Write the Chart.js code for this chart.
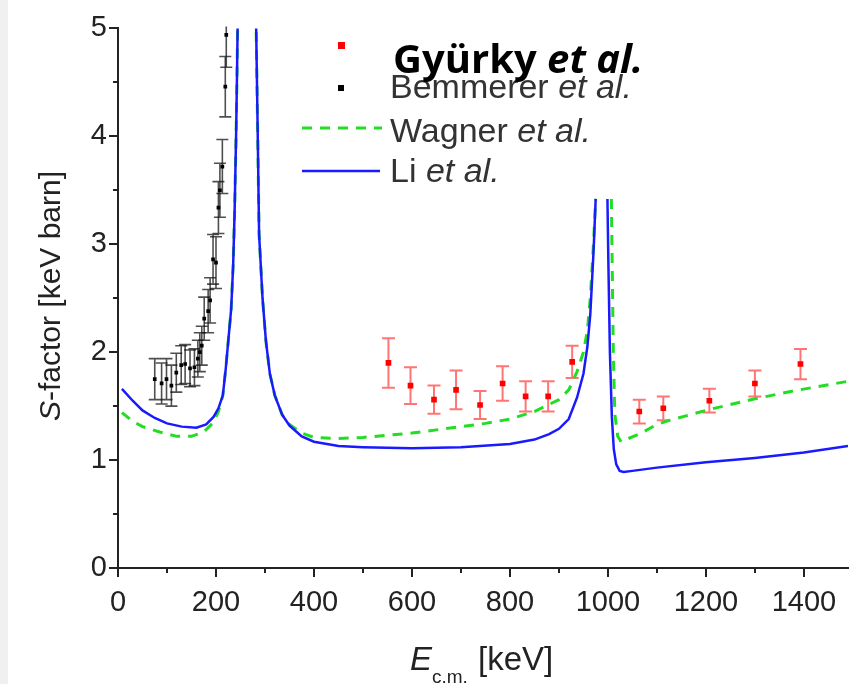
<!DOCTYPE html>
<html><head><meta charset="utf-8">
<script src="https://cdn.jsdelivr.net/npm/chart.js@4.4.1/dist/chart.umd.min.js"></script>
<style>html,body{margin:0;padding:0;background:#fff;}canvas{display:block;}</style>
</head><body>
<canvas id="c" width="852" height="684"></canvas>
<script>
// ---- data ----
const xTickValues = [0, 200, 400, 600, 800, 1000, 1200, 1400];
const yTickValues = [0, 1, 2, 3, 4, 5];

// Bemmerer et al. (black)
const bemE   = [75, 89, 99, 109, 119, 129, 137, 147, 156, 163, 167, 171, 176, 184, 188, 194, 200, 205, 208, 213, 219, 221];
const bemS   = [1.75, 1.71, 1.75, 1.69, 1.81, 1.88, 1.89, 1.85, 1.86, 1.94, 2.00, 2.06, 2.31, 2.38, 2.48, 2.86, 2.83, 3.34, 3.50, 3.72, 4.46, 4.94];
const bemErr = [0.19, 0.19, 0.19, 0.19, 0.18, 0.18, 0.18, 0.17, 0.17, 0.17, 0.18, 0.18, 0.20, 0.20, 0.21, 0.23, 0.24, 0.24, 0.25, 0.25, 0.28, 0.30];

// Gyürky et al. (red)
const gyE   = [552, 597, 645, 690, 739, 785, 832, 878, 927, 1064, 1113, 1207, 1300, 1393];
const gyS   = [1.90, 1.69, 1.56, 1.65, 1.51, 1.71, 1.59, 1.59, 1.91, 1.45, 1.48, 1.55, 1.71, 1.89];
const gyErr = [0.23, 0.17, 0.13, 0.18, 0.13, 0.16, 0.14, 0.14, 0.15, 0.11, 0.11, 0.11, 0.12, 0.14];

// Li et al. (blue curve)
const liE = [8, 30, 50, 75, 100, 130, 160, 180, 195, 205, 214, 220, 226, 231, 235, 238, 241, 243, 245,
             262,
             280, 282, 285, 288, 295, 302, 310, 320, 335, 350, 375, 400, 450, 500, 600, 700, 800, 850, 880, 900, 920, 937, 950, 958, 964, 968, 971, 975,
             987,
             999, 1001, 1004, 1008, 1012, 1017, 1024, 1032, 1050, 1100, 1200, 1300, 1400, 1490];
const liS = [1.66, 1.55, 1.46, 1.39, 1.34, 1.31, 1.30, 1.33, 1.40, 1.48, 1.60, 1.85, 2.15, 2.40, 2.80, 3.30, 4.00, 4.60, 5.30,
             null,
             5.30, 5.00, 4.08, 3.09, 2.50, 2.10, 1.80, 1.60, 1.42, 1.32, 1.22, 1.17, 1.13, 1.12, 1.11, 1.12, 1.15, 1.19, 1.24, 1.29, 1.38, 1.58, 1.80, 2.05, 2.35, 2.70, 2.97, 3.42,
             null,
             3.42, 2.80, 2.00, 1.40, 1.10, 0.96, 0.90, 0.89, 0.90, 0.93, 0.98, 1.02, 1.07, 1.13];

// Wagner et al. (green dashed curve)
const wagE = [8, 30, 50, 85, 120, 150, 175, 195, 205, 214, 220, 226, 231, 235, 238, 241, 243, 245,
              262,
              280, 282, 285, 288, 295, 302, 310, 320, 335, 350, 375, 400, 450, 500, 550, 600, 650, 700, 750, 800, 850, 900, 920, 937, 950, 958, 964, 968, 971, 975,
              991,
              1007, 1009, 1011, 1014, 1020, 1027, 1042, 1066, 1100, 1127, 1208, 1302, 1384, 1490];
const wagS = [1.44, 1.36, 1.31, 1.26, 1.22, 1.22, 1.26, 1.35, 1.45, 1.60, 1.85, 2.15, 2.40, 2.80, 3.30, 4.00, 4.60, 5.30,
              null,
              5.30, 5.00, 4.08, 3.09, 2.50, 2.10, 1.80, 1.60, 1.42, 1.33, 1.25, 1.21, 1.20, 1.21, 1.23, 1.25, 1.28, 1.31, 1.34, 1.38, 1.45, 1.56, 1.65, 1.82, 2.00, 2.20, 2.50, 2.80, 3.05, 3.42,
              null,
              3.42, 2.70, 2.00, 1.43, 1.22, 1.17, 1.20, 1.245, 1.33, 1.37, 1.47, 1.57, 1.645, 1.73];

const legendLabels = ['Gyürky', 'Bemmerer', 'Wagner', 'Li'];
const etAl = 'et al.';

// ---- helpers ----
const pts = (xs, ys) => xs.map((x, i) => ({ x: x, y: ys[i] }));
const SANS = '"Liberation Sans", Arial, sans-serif';

const decor = {
  id: 'decor',
  beforeDraw(chart) {
    const c = chart.ctx;
    c.save();
    c.fillStyle = '#ffffff';
    c.fillRect(0, 0, chart.width, chart.height);
    c.fillStyle = '#f0f0f0';
    c.fillRect(0, 0, 8, chart.height);
    c.restore();
  },
  beforeDatasetsDraw(chart) {
    const c = chart.ctx, xs = chart.scales.x, ys = chart.scales.y, a = chart.chartArea;
    c.save();
    c.beginPath();
    c.rect(a.left, a.top - 2, a.right - a.left, a.bottom - a.top + 2);
    c.clip();
    const bars = (E, S, Er, color, lw, cap) => {
      c.strokeStyle = color; c.lineWidth = lw;
      for (let i = 0; i < E.length; i++) {
        const px = xs.getPixelForValue(E[i]);
        const y1 = ys.getPixelForValue(S[i] + Er[i]);
        const y2 = ys.getPixelForValue(S[i] - Er[i]);
        c.beginPath();
        c.moveTo(px, y1); c.lineTo(px, y2);
        c.moveTo(px - cap, y1); c.lineTo(px + cap, y1);
        c.moveTo(px - cap, y2); c.lineTo(px + cap, y2);
        c.stroke();
      }
    };
    bars(gyE, gyS, gyErr, 'rgba(255,70,70,0.75)', 2, 6.5);
    bars(bemE, bemS, bemErr, 'rgba(20,20,20,0.75)', 1.6, 6);
    c.restore();
  },
  afterDraw(chart) {
    const c = chart.ctx, xs = chart.scales.x, ys = chart.scales.y, a = chart.chartArea;
    c.save();
    // tick marks
    c.strokeStyle = '#222'; c.lineWidth = 2;
    c.beginPath();
    for (let v = 0; v <= 1500; v += 100) {
      const px = Math.round(xs.getPixelForValue(v));
      if (px > chart.width) continue;
      const len = (v % 200 === 0) ? 9 : 5;
      c.moveTo(px, a.bottom); c.lineTo(px, a.bottom + len);
    }
    for (let v = 0; v <= 5; v += 0.5) {
      const py = Math.round(ys.getPixelForValue(v));
      const len = (Math.abs(v - Math.round(v)) < 1e-6) ? 9 : 5;
      c.moveTo(a.left, py); c.lineTo(a.left - len, py);
    }
    c.stroke();

    // axis titles
    c.fillStyle = '#222';
    c.textBaseline = 'alphabetic';
    // y title
    c.save();
    c.translate(60, 296);
    c.rotate(-Math.PI / 2);
    c.font = 'italic 30px ' + SANS;
    const sW = c.measureText('S').width;
    c.font = '30px ' + SANS;
    const restY = '-factor [keV barn]';
    const rW = c.measureText(restY).width;
    const x0 = -(sW + rW) / 2;
    c.font = 'italic 30px ' + SANS;
    c.fillText('S', x0, 0);
    c.font = '30px ' + SANS;
    c.fillText(restY, x0 + sW, 0);
    c.restore();
    // x title
    c.font = 'italic 33px ' + SANS;
    c.fillText('E', 410, 670);
    c.font = '19px ' + SANS;
    c.fillText('c.m.', 432, 683);
    c.font = '33px ' + SANS;
    c.fillText('[keV]', 478, 670);

    // legend symbols
    c.fillStyle = '#ff0000';
    c.fillRect(338, 42, 7, 7);
    c.fillStyle = '#000';
    c.fillRect(338, 85, 6, 6);
    c.lineWidth = 3; c.strokeStyle = '#22dd22'; c.setLineDash([10, 8]);
    c.beginPath(); c.moveTo(302, 128); c.lineTo(382, 128); c.stroke();
    c.setLineDash([]);
    c.lineWidth = 2.5; c.strokeStyle = '#1a1aff';
    c.beginPath(); c.moveTo(302, 171); c.lineTo(380, 171); c.stroke();

    const legendText = (name, x, y, bold, size, color, fam) => {
      c.fillStyle = color;
      c.font = (bold ? 'bold ' : '') + size + 'px ' + fam;
      c.fillText(name + ' ', x, y);
      const w = c.measureText(name + ' ').width;
      c.font = 'italic ' + (bold ? 'bold ' : '') + size + 'px ' + fam;
      c.fillText(etAl, x + w, y);
    };
    legendText(legendLabels[1], 390, 98, false, 34, '#333', SANS);
    legendText(legendLabels[2], 390, 142, false, 34, '#333', SANS);
    legendText(legendLabels[3], 390, 182, false, 34, '#333', SANS);
    const BOLD = '"Open Sans", Lato, sans-serif';
    c.font = 'bold 36px ' + BOLD;
    const w1 = c.measureText(legendLabels[0] + ' ').width;
    c.font = 'italic bold 36px ' + BOLD;
    const w2 = c.measureText(etAl).width;
    const size = Math.round(36 * 249 / (w1 + w2));
    legendText(legendLabels[0], 393, 73, true, size, '#000', BOLD);
    c.restore();
  }
};

new Chart(document.getElementById('c'), {
  type: 'scatter',
  data: {
    datasets: [
      { label: 'Gyürky et al.', data: pts(gyE, gyS), pointStyle: 'rect', pointRadius: 4, backgroundColor: '#ff0000', borderColor: '#ff0000', borderWidth: 0, order: 0 },
      { label: 'Bemmerer et al.', data: pts(bemE, bemS), pointStyle: 'rect', pointRadius: 2.6, backgroundColor: '#000', borderColor: '#000', borderWidth: 0, order: 0 },
      { label: 'Li et al.', data: pts(liE, liS), showLine: true, pointRadius: 0, borderColor: '#1a1aff', borderWidth: 2.5, order: 1, spanGaps: false },
      { label: 'Wagner et al.', data: pts(wagE, wagS), showLine: true, pointRadius: 0, borderColor: '#22dd22', borderWidth: 3, borderDash: [10, 8], order: 2, spanGaps: false }
    ]
  },
  options: {
    responsive: false, animation: false, devicePixelRatio: 1,
    layout: { padding: { left: 0, right: 0, top: 27, bottom: 0 } },
    plugins: { legend: { display: false }, tooltip: { enabled: false } },
    scales: {
      x: {
        type: 'linear', min: 0, max: 1490,
        afterBuildTicks(s) { s.ticks = xTickValues.map(v => ({ value: v })); },
        afterFit(s) { s.height = 116; s.paddingLeft = 0; s.paddingRight = 0; },
        grid: { display: false, drawTicks: false },
        border: { display: true, color: '#222', width: 2 },
        ticks: { color: '#222', font: { family: SANS, size: 29 }, padding: 18, maxRotation: 0, autoSkip: false, callback: v => String(v) }
      },
      y: {
        type: 'linear', min: 0, max: 5,
        afterBuildTicks(s) { s.ticks = yTickValues.map(v => ({ value: v })); },
        afterFit(s) { s.width = 118; },
        grid: { display: false, drawTicks: false },
        border: { display: true, color: '#222', width: 2 },
        ticks: { color: '#222', font: { family: SANS, size: 29 }, padding: 11, callback: v => String(v) }
      }
    }
  },
  plugins: [decor]
});
</script>
</body></html>
